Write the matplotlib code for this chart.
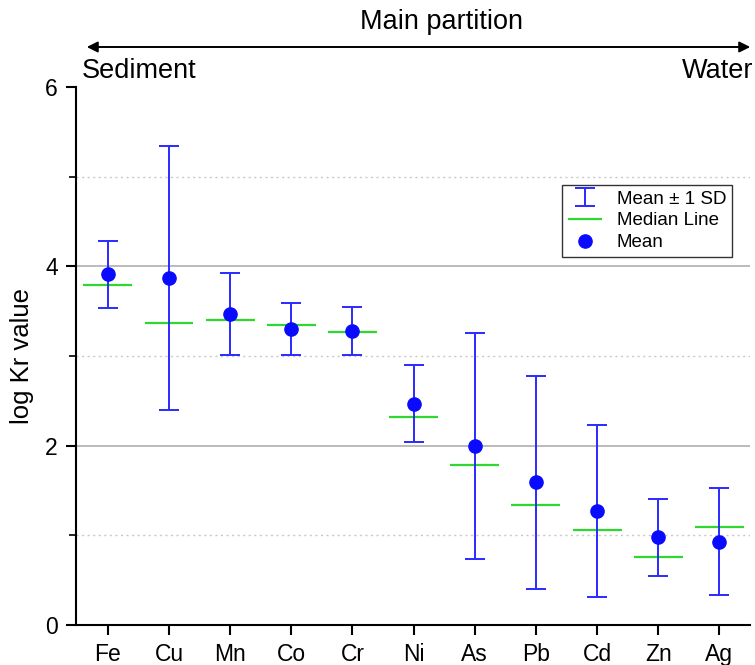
#!/usr/bin/env python3
"""log Kr per element: mean +/- 1 SD, median line, mean point."""

import matplotlib
matplotlib.use('Agg')
import matplotlib.pyplot as plt
from matplotlib.patches import FancyArrowPatch
from matplotlib.ticker import MultipleLocator
import numpy as np

plt.rcParams['font.family'] = ['Liberation Sans', 'DejaVu Sans']

ELEMENTS = ['Fe', 'Cu', 'Mn', 'Co', 'Cr', 'Ni', 'As', 'Pb', 'Cd', 'Zn', 'Ag']
MEAN = [3.91, 3.87, 3.47, 3.30, 3.28, 2.47, 2.00, 1.59, 1.27, 0.98, 0.93]
SD = [0.37, 1.47, 0.46, 0.29, 0.27, 0.43, 1.26, 1.19, 0.96, 0.43, 0.60]
MEDIAN = [3.79, 3.37, 3.40, 3.35, 3.27, 2.32, 1.78, 1.34, 1.06, 0.76, 1.09]

BLUE = '#0a0aff'
BAR_BLUE = '#2a2aff'
GREEN = '#2ed82e'
W_PX, H_PX = 755, 665
AX_L, AX_R, AX_B, AX_T = 76, 750, 625, 87   # pixel box of the axes

fig = plt.figure(figsize=(W_PX / 100, H_PX / 100), dpi=100)
ax = fig.add_axes([AX_L / W_PX, 1 - AX_B / H_PX,
                   (AX_R - AX_L) / W_PX, (AX_B - AX_T) / H_PX])

x = np.arange(len(ELEMENTS))

eb = ax.errorbar(x, MEAN, yerr=SD, fmt='none', ecolor=BAR_BLUE, elinewidth=1.4,
                 capsize=7, capthick=1.4, label='Mean ± 1 SD', zorder=3)
med = ax.hlines(MEDIAN, x - 0.4, x + 0.4, colors=GREEN, lw=1.6,
                label='Median Line', zorder=2)
mn, = ax.plot(x, MEAN, 'o', color=BLUE, ms=9.5, ls='none', label='Mean', zorder=4)

ax.set_xlim(-0.52, 10.5)
ax.set_ylim(0, 6)
ax.set_xticks(x)
ax.set_xticklabels(ELEMENTS)
ax.yaxis.set_major_locator(MultipleLocator(2))
ax.yaxis.set_minor_locator(MultipleLocator(1))
ax.set_ylabel('log Kr value', fontsize=18.5, labelpad=8)

for sp in ['top', 'right']:
    ax.spines[sp].set_visible(False)
for sp in ['left', 'bottom']:
    ax.spines[sp].set_linewidth(1.5)
ax.tick_params(axis='both', which='major', direction='out', length=7,
               width=1.5, labelsize=16.5, pad=6)
ax.tick_params(axis='y', which='minor', direction='out', length=5, width=1.2)
ax.tick_params(axis='x', which='minor', bottom=False)

# grid: solid at major, dotted at minor, drawn behind the data
for v in [2, 4]:
    ax.axhline(v, color='#a8a8a8', lw=1.1, zorder=0)
for v in [1, 3, 5]:
    ax.axhline(v, color='#c8c8c8', lw=1.0, ls=(0, (1.5, 2.5)), zorder=0)

leg = ax.legend([eb, med, mn], ['Mean ± 1 SD', 'Median Line', 'Mean'],
                loc='upper right', bbox_to_anchor=(0.973, 0.818),
                fontsize=13.5, frameon=True, fancybox=False, edgecolor='black',
                borderpad=0.3, handlelength=1.8, labelspacing=0.25,
                handletextpad=0.8, borderaxespad=0)
leg.get_frame().set_linewidth(1.0)

# header: partition arrow and end labels
fig.text(441 / W_PX, 1 - 22 / H_PX, 'Main partition', fontsize=19.5,
         ha='center', va='center')
arrow = FancyArrowPatch((84 / W_PX, 1 - 47 / H_PX), (753 / W_PX, 1 - 47 / H_PX),
                        transform=fig.transFigure, arrowstyle='<|-|>',
                        mutation_scale=16, lw=1.4, color='black')
fig.add_artist(arrow)
fig.text(82 / W_PX, 1 - 71 / H_PX, 'Sediment', fontsize=19.5,
         ha='left', va='center')
fig.text(753 / W_PX, 1 - 71 / H_PX, 'Water', fontsize=19.5,
         ha='right', va='center')

fig.savefig('out.png', dpi=100, facecolor='white')
plt.close()
